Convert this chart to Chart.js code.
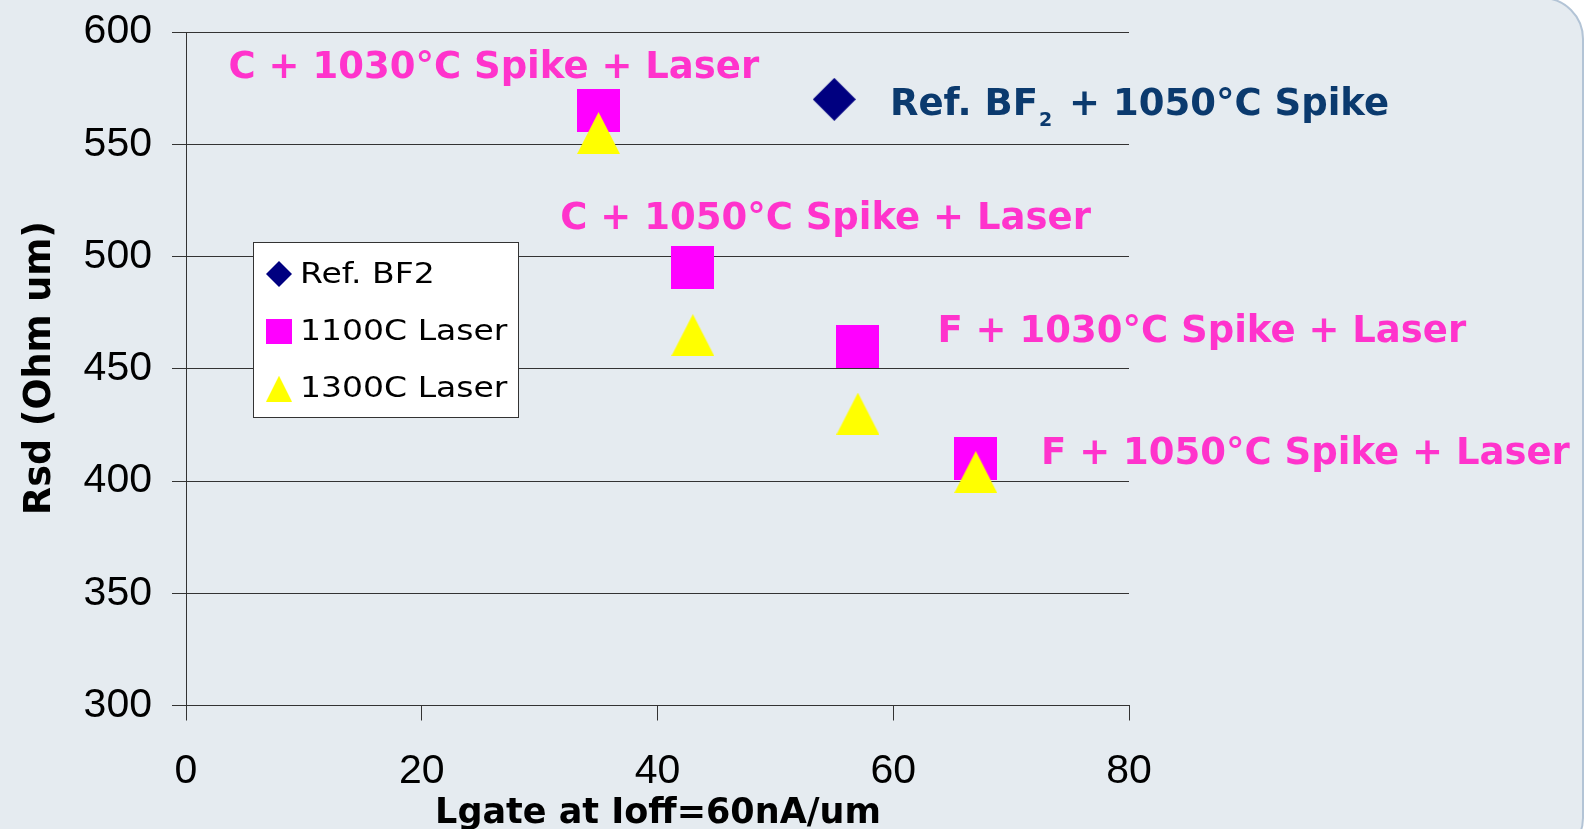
<!DOCTYPE html>
<html lang="en">
<head>
<meta charset="UTF-8">
<title>Rsd vs Lgate</title>
<style>
    body { margin: 0; background: #ffffff; overflow: hidden; }
    .panel {
        position: absolute; left: -60px; top: -3px;
        width: 1644px; height: 863px; box-sizing: border-box;
        background: #e5ebf0;
        border: 2px solid #b3c4d6;
        border-radius: 0 42px 42px 0;
    }
    #rsdChart { position: absolute; left: 0; top: 0; }
</style>
</head>
<body>
<div class="panel"></div>
<canvas id="rsdChart" width="1592" height="829"></canvas>

<script src="https://cdn.jsdelivr.net/npm/chart.js"></script>
<script>
// series
const seriesNames = ['Ref. BF2', '1100C Laser', '1300C Laser'];
const refX = [55];
const refY = [570];
const laser1100X = [35, 43, 57, 67];
const laser1100Y = [565, 495, 460, 410];
const laser1300X = [35, 43, 57, 67];
const laser1300Y = [555, 465, 430, 404];

// axes
const xTicks = [0, 20, 40, 60, 80];
const yTicks = [300, 350, 400, 450, 500, 550, 600];
const xTitle = 'Lgate at Ioff=60nA/um';
const yTitle = 'Rsd (Ohm um)';

// process notes next to the points
const noteTexts = ['C + 1030°C Spike + Laser', 'C + 1050°C Spike + Laser',
                   'F + 1030°C Spike + Laser', 'F + 1050°C Spike + Laser'];
const refNote = ['Ref. BF', '2', ' + 1050°C Spike'];

// where the notes sit (left / baseline, in axis units)
const noteAt = [[3.61, 579.7], [31.75, 512.05], [63.75, 461.75], [72.54, 407.45]];
const refNoteAt = [59.72, 562.9];

const PINK = '#ff33cc';
const NAVY = '#0b3a6e';
const BOLD = 'bold {s}px "DejaVu Sans", Verdana, sans-serif';

function font(tpl, size) {
    return tpl.replace('{s}', size);
}

function toPoints(xs, ys) {
    return xs.map((x, i) => ({ x: x, y: ys[i] }));
}

// marker images, centred on the point by Chart.js
function makeMarker(shape, color, w, h) {
    const c = document.createElement('canvas');
    c.width = w; c.height = h;
    const g = c.getContext('2d');
    g.fillStyle = color;
    g.beginPath();
    if (shape === 'diamond') {
        g.moveTo(w / 2, 0); g.lineTo(w, h / 2); g.lineTo(w / 2, h); g.lineTo(0, h / 2);
    } else if (shape === 'triangle') {
        g.moveTo(w / 2, 0); g.lineTo(w, h); g.lineTo(0, h);
    } else {
        g.rect(0, 0, w, h);
    }
    g.closePath();
    g.fill();
    return c;
}

const markers = [
    makeMarker('diamond', '#000080', 43, 43),
    makeMarker('square', '#ff00ff', 43, 43),
    makeMarker('triangle', '#ffff00', 43, 42)
];
const legendMarkers = [
    makeMarker('diamond', '#000080', 26, 26),
    makeMarker('square', '#ff00ff', 26, 25),
    makeMarker('triangle', '#ffff00', 26, 26)
];

// text drawn with an optional horizontal stretch; returns the right end
function drawText(ctx, text, x, y, sx) {
    sx = sx || 1;
    ctx.save();
    ctx.translate(x, y);
    ctx.scale(sx, 1);
    ctx.fillText(text, 0, 0);
    ctx.restore();
    return x + ctx.measureText(text).width * sx;
}

const notesPlugin = {
    id: 'notes',
    afterDraw(chart) {
        const ctx = chart.ctx;
        const xs = chart.scales.x, ys = chart.scales.y;
        ctx.save();
        ctx.textBaseline = 'alphabetic';

        // axis titles
        ctx.fillStyle = '#000';
        ctx.textAlign = 'center';
        ctx.font = font(BOLD, 35);
        ctx.fillText(xTitle, 658, 823);
        ctx.save();
        ctx.translate(50, 368);
        ctx.rotate(-Math.PI / 2);
        ctx.font = font(BOLD, 36.5);
        ctx.fillText(yTitle, 0, 0);
        ctx.restore();
        ctx.textAlign = 'left';

        // pink notes
        ctx.fillStyle = PINK;
        ctx.font = font(BOLD, 37);
        noteTexts.forEach((t, i) => {
            ctx.fillText(t, xs.getPixelForValue(noteAt[i][0]), ys.getPixelForValue(noteAt[i][1]));
        });

        // reference note, BF2 with subscript
        ctx.fillStyle = NAVY;
        const rx = xs.getPixelForValue(refNoteAt[0]);
        const ry = ys.getPixelForValue(refNoteAt[1]);
        ctx.font = font(BOLD, 37);
        let nx = drawText(ctx, refNote[0], rx, ry) + 1;
        ctx.font = font(BOLD, 19);
        nx = drawText(ctx, refNote[1], nx, ry + 10.7) + 4;
        ctx.font = font(BOLD, 37);
        drawText(ctx, refNote[2], nx, ry);

        // legend box
        ctx.fillStyle = '#ffffff';
        ctx.fillRect(253, 242, 266, 175);
        ctx.strokeStyle = '#333';
        ctx.lineWidth = 1;
        ctx.strokeRect(253.5, 242.5, 265, 175);
        ctx.fillStyle = '#000';
        ctx.font = '28px "DejaVu Sans", Verdana, sans-serif';
        const rowY = [274, 331, 388.7];
        chart.data.datasets.forEach((ds, i) => {
            const m = legendMarkers[i];
            ctx.drawImage(m, 279 - m.width / 2, rowY[i] - m.height / 2);
            drawText(ctx, ds.label, 300, rowY[i] + 8.5, 1.18);
        });
        ctx.restore();
    }
};

const tickFont = { family: '"Liberation Sans", Arial, sans-serif', size: 41 };

new Chart(document.getElementById('rsdChart'), {
    type: 'scatter',
    data: {
        datasets: [
            { label: seriesNames[0], data: toPoints(refX, refY), pointStyle: markers[0], order: 2 },
            { label: seriesNames[1], data: toPoints(laser1100X, laser1100Y), pointStyle: markers[1], order: 1 },
            { label: seriesNames[2], data: toPoints(laser1300X, laser1300Y), pointStyle: markers[2], order: 0 }
        ]
    },
    options: {
        responsive: false,
        animation: false,
        events: [],
        layout: { padding: { top: 32, right: 463, bottom: 0, left: 0 } },
        plugins: {
            legend: { display: false },
            tooltip: { enabled: false }
        },
        scales: {
            x: {
                type: 'linear',
                min: xTicks[0],
                max: xTicks[xTicks.length - 1],
                ticks: { stepSize: xTicks[1] - xTicks[0], color: '#000', font: tickFont, padding: 27, maxRotation: 0 },
                grid: { drawOnChartArea: false, tickLength: 15, color: '#333' },
                border: { color: '#333' },
                afterFit: s => { s.height = 123.5; s.paddingLeft = 0; s.paddingRight = 0; }
            },
            y: {
                min: yTicks[0],
                max: yTicks[yTicks.length - 1],
                ticks: { stepSize: yTicks[1] - yTicks[0], color: '#000', font: tickFont, padding: 20 },
                grid: { tickLength: 14, color: '#333' },
                border: { color: '#333' },
                afterFit: s => { s.width = 186; s.paddingTop = 0; s.paddingBottom = 0; }
            }
        }
    },
    plugins: [notesPlugin]
});
</script>
</body>
</html>
